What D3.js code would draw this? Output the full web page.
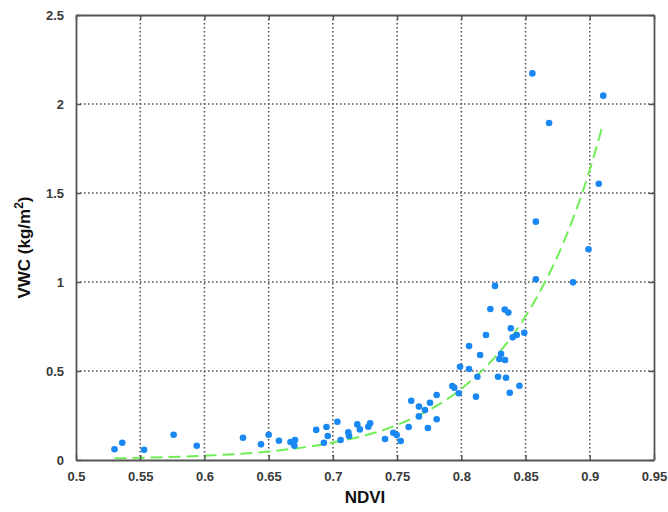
<!DOCTYPE html>
<html>
<head>
<meta charset="utf-8">
<script src="https://cdn.jsdelivr.net/npm/d3@7"></script>
<style>
  body { margin: 0; background: #fff; }
  svg { display: block; }
  text { font-family: "Liberation Sans", Arial, sans-serif; }
</style>
</head>
<body>
<svg id="chart" width="668" height="512"></svg>
<script>
// ---- data ----
const ndvi = [0.530, 0.536, 0.553, 0.576, 0.594, 0.630, 0.644, 0.650, 0.658, 0.667,
  0.6705, 0.670, 0.687, 0.693, 0.695, 0.696, 0.7035, 0.706, 0.712, 0.7126,
  0.719, 0.721, 0.7276, 0.729, 0.7406, 0.747, 0.7497, 0.7528, 0.759, 0.761,
  0.767, 0.767, 0.7717, 0.774, 0.7756, 0.7808, 0.7808, 0.793, 0.7945, 0.798,
  0.799, 0.806, 0.806, 0.8114, 0.8125, 0.8146, 0.8192, 0.8226, 0.8262, 0.8286,
  0.8296, 0.8309, 0.8338, 0.8366, 0.834, 0.8348, 0.8377, 0.8385, 0.840, 0.8431,
  0.8452, 0.849, 0.858, 0.887, 0.8553, 0.9105, 0.8683, 0.907, 0.858, 0.899];
const vwc = [0.060, 0.097, 0.058, 0.142, 0.080, 0.125, 0.088, 0.142, 0.108, 0.101,
  0.112, 0.080, 0.169, 0.097, 0.185, 0.135, 0.215, 0.112, 0.155, 0.135,
  0.200, 0.172, 0.187, 0.206, 0.118, 0.153, 0.140, 0.107, 0.185, 0.333,
  0.300, 0.245, 0.281, 0.180, 0.322, 0.365, 0.229, 0.416, 0.406, 0.375,
  0.524, 0.640, 0.511, 0.356, 0.468, 0.590, 0.702, 0.848, 0.978, 0.468,
  0.567, 0.596, 0.845, 0.828, 0.562, 0.462, 0.378, 0.740, 0.689, 0.702,
  0.417, 0.715, 1.015, 0.998, 2.172, 2.047, 1.893, 1.552, 1.339, 1.184];
const fitX = [0.53, 0.55, 0.60, 0.65, 0.70, 0.75, 0.80, 0.82, 0.84, 0.86, 0.88, 0.90, 0.91];
const fitY = [0.009, 0.012, 0.024, 0.048, 0.098, 0.197, 0.40, 0.53, 0.70, 0.93, 1.23, 1.63, 1.88];
const xTicks = [0.5, 0.55, 0.6, 0.65, 0.7, 0.75, 0.8, 0.85, 0.9, 0.95];
const xTickLabels = ["0.5", "0.55", "0.6", "0.65", "0.7", "0.75", "0.8", "0.85", "0.9", "0.95"];
const yTicks = [0, 0.5, 1, 1.5, 2, 2.5];
const yTickLabels = ["0", "0.5", "1", "1.5", "2", "2.5"];

// ---- layout ----
const L = 76, R = 654, T = 15, B = 460;
const svg = d3.select("#chart");
const x = d3.scaleLinear().domain([0.5, 0.95]).range([L, R]);
const y = d3.scaleLinear().domain([0, 2.5]).range([B, T]);

// grid
const grid = svg.append("g");
grid.selectAll("line.vx").data(xTicks.slice(1, -1)).join("line")
  .attr("x1", d => x(d)).attr("x2", d => x(d)).attr("y1", T).attr("y2", B)
  .attr("stroke", "#555").attr("stroke-width", 1.6).attr("stroke-dasharray", "1.6,2.4");
grid.selectAll("line.hy").data(yTicks.slice(1, -1)).join("line")
  .attr("x1", L).attr("x2", R).attr("y1", d => y(d)).attr("y2", d => y(d))
  .attr("stroke", "#555").attr("stroke-width", 1.6).attr("stroke-dasharray", "1.6,2.4");

// fit curve
const pts = fitX.map((v, i) => [v, fitY[i]]);
svg.append("path")
  .datum(pts)
  .attr("d", d3.line().x(d => x(d[0])).y(d => y(d[1])).curve(d3.curveMonotoneX))
  .attr("fill", "none").attr("stroke", "#6fee55").attr("stroke-width", 2)
  .attr("stroke-dasharray", "12,6");

// points
svg.append("g").selectAll("circle").data(ndvi.map((v, i) => [v, vwc[i]])).join("circle")
  .attr("cx", d => x(d[0])).attr("cy", d => y(d[1])).attr("r", 3.3)
  .attr("fill", "#1a88f2");

// axes (ticks inward, frame)
const fmtX = (d, i) => xTickLabels[i];
const fmtY = (d, i) => yTickLabels[i];
const ax = svg.append("g").attr("transform", `translate(0,${B})`)
  .call(d3.axisBottom(x).tickValues(xTicks).tickFormat(fmtX).tickSizeInner(-5).tickSizeOuter(0).tickPadding(12));
const ay = svg.append("g").attr("transform", `translate(${L},0)`)
  .call(d3.axisLeft(y).tickValues(yTicks).tickFormat(fmtY).tickSizeInner(-5).tickSizeOuter(0).tickPadding(12));
const axTop = svg.append("g").attr("transform", `translate(0,${T})`)
  .call(d3.axisTop(x).tickValues(xTicks).tickFormat("").tickSizeInner(-5).tickSizeOuter(0));
const ayRight = svg.append("g").attr("transform", `translate(${R},0)`)
  .call(d3.axisRight(y).tickValues(yTicks).tickFormat("").tickSizeInner(-5).tickSizeOuter(0));
[ax, ay, axTop, ayRight].forEach(g => {
  g.select(".domain").attr("stroke", "#555").attr("stroke-width", 1.8);
  g.selectAll(".tick line").attr("stroke", "#555").attr("stroke-width", 1.5);
  g.selectAll(".tick text").attr("fill", "#3a3a3a").style("font-size", "13px").style("font-weight", "bold");
});

// axis titles
svg.append("text").attr("x", (L + R) / 2).attr("y", 503).attr("text-anchor", "middle")
  .style("font-size", "17px").style("font-weight", "bold").attr("fill", "#111").text("NDVI");
const yt = svg.append("text").attr("transform", `translate(30,${(T + B) / 2 + 10}) rotate(-90)`)
  .attr("text-anchor", "middle").style("font-size", "17px").style("font-weight", "bold").attr("fill", "#111");
yt.append("tspan").text("VWC (kg/m");
yt.append("tspan").attr("dy", -7).style("font-size", "12px").text("2");
yt.append("tspan").attr("dy", 7).text(")");
</script>
</body>
</html>
